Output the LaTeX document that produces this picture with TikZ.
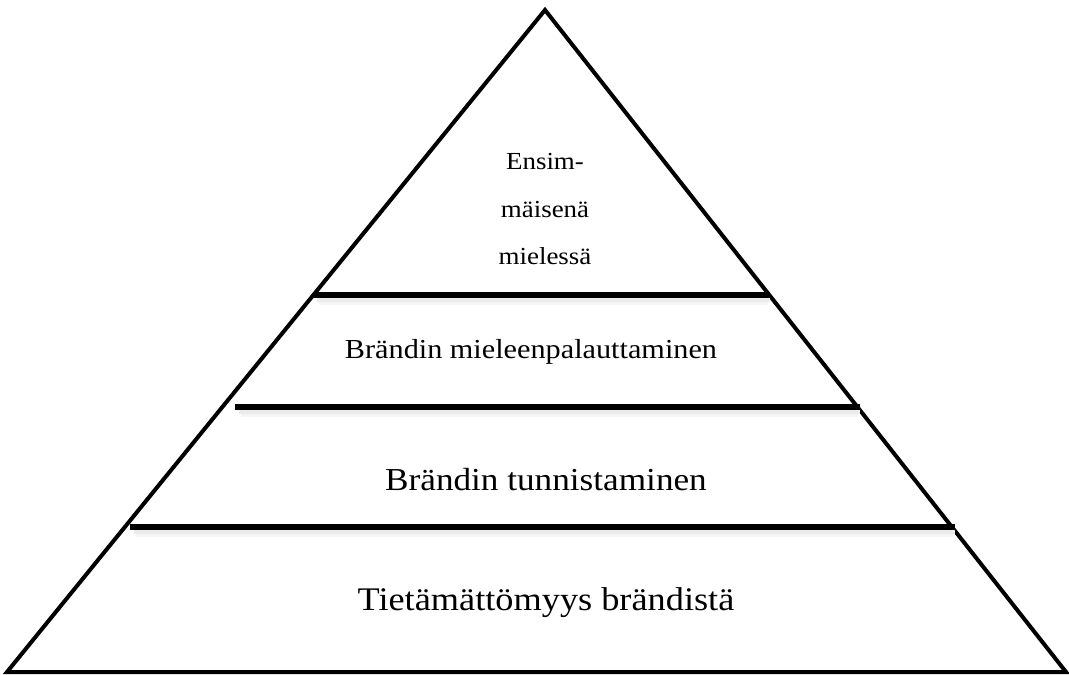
\documentclass[tikz,border=0pt]{standalone}
\usepackage{fontspec}
\setmainfont[FakeStretch=1.1]{Liberation Serif}
\begin{document}
\begin{tikzpicture}[x=1pt,y=-1pt,
  edge/.style={line width=4pt,line join=miter},
  tier/.style={line width=6pt},
  tiershade/.style={line width=4pt,black!8},
  tiershadeout/.style={line width=8pt,black!4},
  label/.style={inner sep=0pt,anchor=base}]
\useasboundingbox (0,0) rectangle (1069,675);
% pyramid outline
\coordinate (apex) at (545,10);
\coordinate (bl) at (7,672);
\coordinate (br) at (1066,672);
\draw[edge] (bl) -- (apex) -- (br) -- cycle;
% tier separators with soft shadow
\foreach \y/\xl/\xr in {295/313/770, 407/235/860, 527/130/955}{
  \draw[tiershadeout] (\xl+6,\y+6) -- (\xr-2,\y+6);
  \draw[tiershade] (\xl+4,\y+5) -- (\xr,\y+5);
  \draw[tier] (\xl,\y) -- (\xr,\y);
}
% tier labels
\node[label,font=\fontsize{24.5}{26}\selectfont] (top1) at (545,169) {Ensim-};
\node[label,font=\fontsize{24.5}{26}\selectfont] (top2) at (545,217) {mäisenä};
\node[label,font=\fontsize{24.5}{26}\selectfont] (top3) at (545,264) {mielessä};
\node[label,font=\fontsize{27.5}{30}\selectfont] (recall) at (531,358) {Brändin mieleenpalauttaminen};
\node[label,font=\fontsize{32}{34}\selectfont] (recog) at (546,490) {Brändin tunnistaminen};
\node[label,font=\fontsize{33}{35}\selectfont] (unaware) at (546,610) {Tietämättömyys brändistä};
\end{tikzpicture}
\end{document}
